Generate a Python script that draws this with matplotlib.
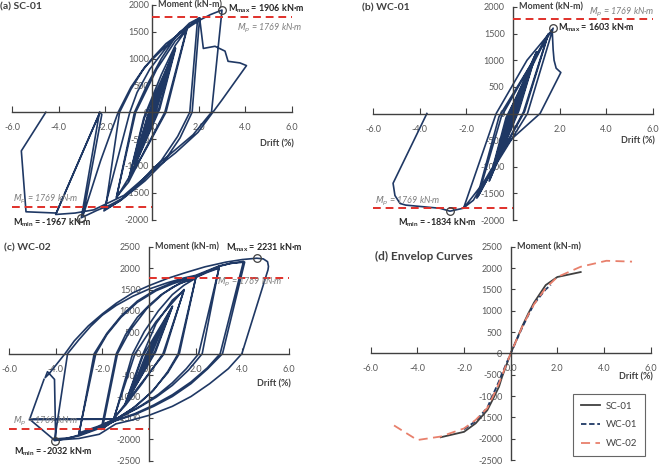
import numpy as np
import matplotlib
matplotlib.use("Agg")
import matplotlib.pyplot as plt

plt.rcParams['font.family'] = ['Lato', 'DejaVu Sans']

# moment-drift histories, (drift %, moment kN-m)
sc01_loop = [
    (0.0, 0), (0.37, 440), (0.05, 20), (-0.38, -470), (-0.06, -20),
    (0.38, 450), (0.06, 30), (-0.38, -480), (-0.07, -30),
    (0.50, 600), (0.10, 50), (-0.50, -630), (-0.10, -50),
    (0.51, 610), (0.11, 60), (-0.52, -640), (-0.11, -60),
    (0.75, 900), (0.18, 70), (-0.76, -950), (-0.18, -80),
    (0.76, 910), (0.20, 60), (-0.77, -960), (-0.20, -80),
    (1.00, 1200), (0.30, 80), (-1.00, -1260), (-0.32, -100),
    (1.01, 1190), (0.33, 60), (-1.02, -1280), (-0.35, -100),
    (0.40, 700), (1.00, 1250), (1.48, 1540), (0.55, 0), (-0.30, -700),
    (-1.00, -1300), (-1.52, -1580), (-0.70, 0), (0.20, 800), (1.00, 1330),
    (1.50, 1550), (0.60, 0), (-0.40, -800), (-1.53, -1600), (-0.75, 0),
    (-0.20, 520), (0.40, 1000), (1.00, 1400), (1.60, 1660), (2.04, 1760), (1.72, 0),
    (1.20, -480), (0.50, -930), (-0.30, -1280), (-1.30, -1630), (-2.06, -1840), (-0.95, 0),
    (-0.64, 370), (-0.10, 800), (0.60, 1200), (1.20, 1500), (1.95, 1720), (1.62, 0),
    (1.10, -450), (0.40, -900), (-0.40, -1280), (-1.40, -1660), (-2.00, -1810), (-1.39, 0),
    (-0.90, 430), (-0.40, 780), (0.00, 1000), (0.60, 1280), (1.20, 1470),
    (1.70, 1620), (2.10, 1730), (2.50, 1820), (3.00, 1906), (2.55, 0),
    (1.76, -420), (1.00, -700), (0.04, -1050), (-0.60, -1350), (-1.24, -1600),
    (-1.80, -1730), (-2.36, -1830), (-3.03, -1967), (-2.25, 0), (-2.15, -40),
    (-2.95, -1920), (-2.20, -900), (-1.45, 0), (-0.90, 470), (-0.30, 850),
    (0.40, 1150), (1.20, 1480), (1.70, 1640), (2.04, 1760), (2.20, 1190), (2.70, 1230),
    (3.13, 1140), (3.26, 950), (3.77, 920), (4.05, 870), (3.00, 230), (1.97, -375),
    (1.00, -760), (0.00, -1100), (-1.20, -1550), (-2.50, -1820), (-3.30, -1880), (-4.13, -1906),
    (-2.23, 0), (-4.10, -1880), (-5.40, -1856), (-5.60, -720), (-4.55, 0),
]

wc01_loop = [
    (0.0, 0), (0.37, 450), (0.05, 30), (-0.37, -470), (-0.05, -30),
    (0.38, 460), (0.06, 30), (-0.38, -480), (-0.06, -30),
    (0.50, 600), (0.08, 40), (-0.50, -640), (-0.09, -40),
    (0.51, 610), (0.09, 40), (-0.51, -650), (-0.10, -40),
    (0.75, 880), (0.14, 50), (-0.75, -950), (-0.15, -60),
    (0.76, 890), (0.16, 50), (-0.76, -960), (-0.17, -60),
    (1.00, 1150), (0.22, 60), (-1.00, -1250), (-0.25, -80),
    (1.01, 1160), (0.25, 50), (-1.02, -1270), (-0.30, -80),
    (1.50, 1480), (0.45, 30), (-1.50, -1560), (-0.50, -60),
    (1.52, 1500), (0.50, 40), (-1.55, -1590), (-0.60, -60),
    (1.72, 1603), (0.62, 0), (-1.00, -1150), (-2.12, -1780), (-0.72, 0),
    (0.60, 1000), (1.68, 1570), (1.72, 1200), (1.76, 1000), (1.85, 850), (2.05, 770),
    (1.16, 0), (-0.13, -506), (-1.00, -1100), (-1.70, -1630), (-2.14, -1780), (-2.70, -1834),
    (-3.13, -1780), (-4.00, -1745), (-4.60, -1720), (-4.84, -1690), (-5.06, -1540),
    (-5.14, -1310), (-3.69, 0),
]

wc02_loop = [
    (0.0, 0), (0.37, 420), (0.05, 20), (-0.38, -440), (-0.05, -20),
    (0.50, 570), (0.08, 30), (-0.50, -600), (-0.08, -30),
    (0.75, 840), (0.15, 40), (-0.76, -880), (-0.15, -50),
    (1.00, 1100), (0.25, 50), (-1.00, -1160), (-0.27, -60),
    (1.01, 1110), (0.28, 40), (-1.02, -1170), (-0.30, -60),
    (0.30, 700), (1.00, 1250), (1.50, 1480), (0.60, 0), (-0.30, -700),
    (-1.00, -1200), (-1.50, -1500), (-0.60, 0), (0.30, 750), (1.50, 1500),
    (0.65, 0), (-1.50, -1510), (-0.70, 0),
    (-0.20, 520), (0.40, 1000), (1.00, 1380), (1.50, 1600), (2.00, 1764), (1.25, 0),
    (0.80, -420), (0.20, -850), (-0.50, -1200), (-1.30, -1500), (-2.00, -1750), (-1.35, 0),
    (-0.80, 550), (-0.10, 1050), (0.60, 1400), (1.30, 1640), (2.00, 1760), (1.30, 0),
    (0.80, -450), (0.10, -900), (-0.70, -1280), (-1.40, -1520), (-2.05, -1770), (-1.40, 0),
    (-1.00, 450), (-0.50, 850), (0.00, 1130), (0.50, 1370), (1.00, 1550), (1.50, 1680),
    (2.00, 1780), (2.50, 1900), (3.00, 2000), (2.13, 0),
    (1.60, -350), (1.00, -680), (0.40, -950), (-0.30, -1200), (-1.00, -1420), (-1.60, -1560),
    (-2.20, -1700), (-3.00, -1850), (-2.28, 0),
    (-1.80, 450), (-1.20, 850), (-0.50, 1200), (0.30, 1470), (1.00, 1630), (1.50, 1720),
    (2.00, 1790), (2.50, 1920), (3.00, 2010), (2.28, 0),
    (1.70, -380), (1.00, -740), (0.30, -1020), (-0.50, -1280), (-1.45, -1530), (-2.20, -1720),
    (-3.00, -1880), (-2.35, 0),
    (-1.80, 480), (-1.20, 880), (-0.50, 1230), (0.30, 1500), (1.00, 1660), (2.00, 1810),
    (2.50, 1920), (3.00, 2040), (3.50, 2110), (4.05, 2156), (3.05, 0),
    (2.50, -330), (1.80, -660), (1.00, -960), (0.20, -1200), (-0.60, -1400), (-1.45, -1560),
    (-2.20, -1740), (-3.00, -1900), (-3.50, -1980), (-4.05, -2032), (-3.49, 0),
    (-3.00, 330), (-2.50, 640), (-2.00, 900), (-1.40, 1130), (-0.70, 1340), (0.00, 1510),
    (0.80, 1660), (1.50, 1770), (2.00, 1830), (2.50, 1940), (3.00, 2050), (3.50, 2110),
    (4.10, 2140), (3.15, 0),
    (2.50, -360), (1.80, -700), (1.00, -1000), (0.20, -1230), (-0.60, -1420), (-1.45, -1570),
    (-2.20, -1760), (-3.00, -1920), (-3.50, -1970), (-4.00, -1990), (-4.05, -600),
    (-4.35, -420), (-4.45, -560), (-4.30, -480), (-3.60, 0),
    (-3.20, 300), (-2.60, 650), (-2.00, 930), (-1.40, 1180), (-0.70, 1420), (0.00, 1590),
    (0.80, 1760), (1.60, 1900), (2.40, 2030), (3.30, 2140), (4.00, 2200), (4.62, 2231),
    (4.90, 2215), (5.08, 2150), (5.12, 2040), (5.10, 1960), (3.98, 0),
    (3.40, -350), (2.60, -700), (1.80, -1000), (1.00, -1230), (0.00, -1440), (-0.80, -1560),
    (-1.42, -1640), (-2.13, -1882), (-3.00, -1980), (-4.05, -2020),
    (-5.12, -1530), (-1.42, -1530), (-5.12, -1540), (-4.50, -600),
]

# envelope curves, panel (d)
sc01_env_drift = [-3.0, -2.0, -1.5, -1.0, -0.75, -0.5, -0.375, 0, 0.375, 0.5, 0.75, 1.0, 1.5, 2.0, 3.0]
sc01_env_moment = [-1967, -1840, -1640, -1330, -1060, -780, -560, 0, 480, 640, 930, 1190, 1600, 1790, 1906]
wc01_env_drift = [-2.0, -1.5, -1.0, -0.75, -0.5, -0.375, 0, 0.375, 0.5, 0.75, 1.0, 1.5, 1.72]
wc01_env_moment = [-1780, -1590, -1270, -960, -650, -480, 0, 460, 610, 890, 1160, 1500, 1603]
wc02_env_drift = [-5.0, -4.0, -3.0, -2.0, -1.5, -1.0, -0.75, -0.5, 0, 0.5, 0.75, 1.0, 1.5, 2.0, 3.0, 4.1, 5.2]
wc02_env_moment = [-1690, -2032, -1950, -1760, -1560, -1280, -1000, -700, 0, 630, 900, 1150, 1530, 1790, 2030, 2170, 2150]

Mp = 1769
# (drift, moment) of the marked peaks
sc01_max, sc01_min = (3.0, 1906), (-3.03, -1967)
wc01_max, wc01_min = (1.72, 1603), (-2.7, -1834)
wc02_max, wc02_min = (4.62, 2231), (-4.05, -2032)

NAVY = '#1f3864'
RED = '#e0302a'
GRAY = '#595959'
DARK = '#404040'

W, H = 663, 467
fig = plt.figure(figsize=(W / 100, H / 100), dpi=100)


def make_axes(left, right, top, bottom):
    # pixel box of the plotting range -> figure fractions
    return fig.add_axes([left / W, 1 - bottom / H, (right - left) / W, (bottom - top) / H])


def style(ax, ylim, ypad):
    ax.set_xlim(-6, 6)
    ax.set_ylim(-ylim, ylim)
    ax.patch.set_visible(False)
    for s in ['top', 'right']:
        ax.spines[s].set_visible(False)
    for s in ['left', 'bottom']:
        ax.spines[s].set_position(('data', 0))
        ax.spines[s].set_color(DARK)
        ax.spines[s].set_linewidth(1.0)
    xt = np.arange(-6, 6.1, 2)
    ax.set_xticks(xt)
    ax.set_xticklabels([f'{v:.1f}' for v in xt])
    yt = np.arange(-ylim, ylim + 1, 500)
    ax.set_yticks(yt)
    ax.set_yticklabels([str(int(v)) for v in yt])
    ax.tick_params(axis='x', direction='in', length=4, pad=8, labelsize=6.5, labelcolor=GRAY, color=DARK)
    ax.tick_params(axis='y', direction='in', length=3, pad=ypad, labelsize=6.5, labelcolor=GRAY, color=DARK)
    ax.set_axisbelow(True)
    ax.text(0.25, ylim, 'Moment (kN-m)', ha='left', va='center', fontsize=6.5,
            fontweight='bold', color=DARK, clip_on=False)


def drift_label(ax, y):
    ax.text(6.1, y, 'Drift (%)', ha='right', va='center', fontsize=6.5,
            fontweight='bold', color=DARK, clip_on=False)


def mp_lines(ax):
    ax.plot([0, 6], [Mp, Mp], color=RED, lw=1.4, ls=(0, (4, 2.5)), zorder=3, clip_on=False)
    ax.plot([-6, 0], [-Mp, -Mp], color=RED, lw=1.4, ls=(0, (4, 2.5)), zorder=3, clip_on=False)


def loop(ax, pts):
    x, y = zip(*pts)
    ax.plot(x, y, color=NAVY, lw=1.2, solid_joinstyle='round', zorder=2)


def peaks(ax, pmax, pmin):
    for p in (pmax, pmin):
        ax.plot(*p, 'o', ms=5.5, mfc='none', mec=DARK, mew=0.9, zorder=4, clip_on=False)


mp_txt = '$M_p$ = 1769 kN\u00b7m'
lab_kw = dict(fontsize=6.5, fontweight='bold', color='#262626', va='center', clip_on=False)
mp_kw = dict(fontsize=6.5, style='italic', color='#7f7f7f', va='center', clip_on=False)
title_kw = dict(fontsize=7.5, fontweight='bold', color=DARK, va='center')

# (a) SC-01
ax = make_axes(12, 292, 5, 219.5)
style(ax, 2000, 2)
loop(ax, sc01_loop)
mp_lines(ax)
peaks(ax, sc01_max, sc01_min)
drift_label(ax, -600)
ax.text(3.24, 1930, 'M$_{\\mathregular{max}}$ = 1906 kN\u00b7m', ha='left', **lab_kw)
ax.text(3.63, 1570, mp_txt, ha='left', **mp_kw)
ax.text(-5.97, -1620, mp_txt, ha='left', **mp_kw)
ax.text(-5.97, -2060, 'M$_{\\mathregular{min}}$ = -1967 kN\u00b7m', ha='left', **lab_kw)
fig.text(0.5 / W, 1 - 7 / H, '(a) SC-01', **title_kw)

# (b) WC-01
ax = make_axes(373, 653, 7, 220)
style(ax, 2000, 6)
loop(ax, wc01_loop)
mp_lines(ax)
peaks(ax, wc01_max, wc01_min)
drift_label(ax, -510)
ax.text(1.93, 1610, 'M$_{\\mathregular{max}}$ = 1603 kN\u00b7m', ha='left', **lab_kw)
ax.text(6.08, 1900, mp_txt, ha='right', **mp_kw)
ax.text(-5.9, -1660, mp_txt, ha='left', **mp_kw)
ax.text(-4.95, -2050, 'M$_{\\mathregular{min}}$ = -1834 kN\u00b7m', ha='left', **lab_kw)
fig.text(362 / W, 1 - 8 / H, '(b) WC-01', **title_kw)

# (c) WC-02
ax = make_axes(9, 289, 246.7, 460.7)
style(ax, 2500, 6)
loop(ax, wc02_loop)
mp_lines(ax)
peaks(ax, wc02_max, wc02_min)
drift_label(ax, -700)
ax.text(3.29, 2480, 'M$_{\\mathregular{max}}$ = 2231 kN\u00b7m', ha='left', **lab_kw)
ax.text(2.9, 1654, mp_txt, ha='left', **mp_kw)
ax.text(-5.85, -1593, mp_txt, ha='left', **mp_kw)
ax.text(-5.77, -2300, 'M$_{\\mathregular{min}}$ = -2032 kN\u00b7m', ha='left', **lab_kw)
fig.text(4 / W, 1 - 248 / H, '(c) WC-02', **title_kw)

# (d) envelopes
ax = make_axes(370.7, 650.7, 246.7, 460)
style(ax, 2500, 6)
drift_label(ax, -560)
ax.plot(sc01_env_drift, sc01_env_moment, color=DARK, lw=1.3, label='SC-01')
ax.plot(wc01_env_drift, wc01_env_moment, color=NAVY, lw=1.3, ls=(0, (3, 1.5)), label='WC-01')
ax.plot(wc02_env_drift, wc02_env_moment, color='#e8806c', lw=1.3, ls=(0, (5, 3)), label='WC-02')
leg = ax.legend(loc='lower right', bbox_to_anchor=(0.98, 0.02), fontsize=7, frameon=True,
                fancybox=False, edgecolor=DARK, handlelength=2.0, labelspacing=1.0,
                borderpad=0.8, handletextpad=0.6, borderaxespad=0)
leg.get_frame().set_linewidth(0.8)
for t in leg.get_texts():
    t.set_color(DARK)
fig.text(375 / W, 1 - 256 / H, '(d) Envelop Curves', fontsize=8.5, fontweight='bold', color=DARK, va='center')

fig.savefig('out.png', dpi=100, facecolor='white')
